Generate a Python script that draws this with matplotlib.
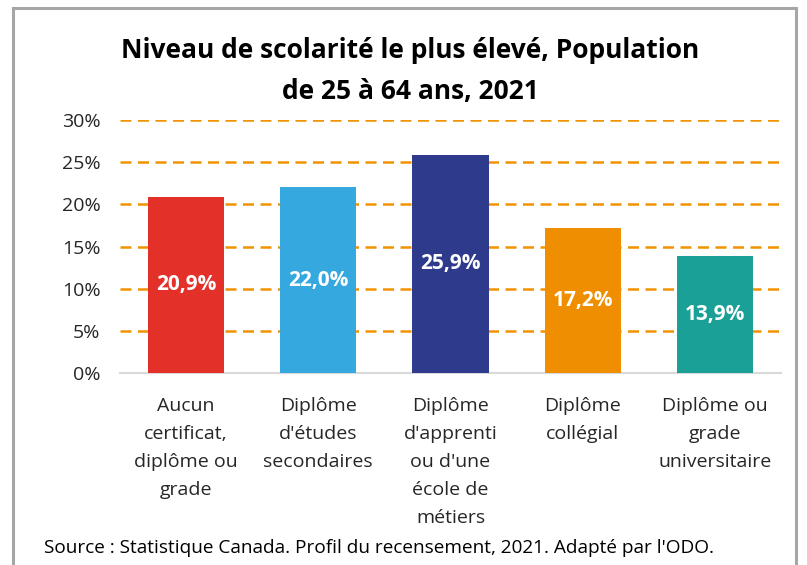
import matplotlib
import matplotlib.pyplot as plt
import matplotlib.patches as mpatches
from matplotlib.ticker import FuncFormatter

plt.rcParams["font.family"] = ["Liberation Sans Narrow", "Open Sans", "DejaVu Sans"]

# ── Data ────────────────────────────────────────────────────────────────────
categories = [
    "Aucun\ncertificat,\ndiplôme ou\ngrade",
    "Diplôme\nd'études\nsecondaires",
    "Diplôme\nd'apprenti\nou d'une\nécole de\nmétiers",
    "Diplôme\ncollégial",
    "Diplôme ou\ngrade\nuniversitaire",
]
values = [20.9, 22.0, 25.9, 17.2, 13.9]
colors = ["#E3312A", "#36A8E0", "#2E3A8C", "#EE8E00", "#1BA098"]
yticks = [0, 5, 10, 15, 20, 25, 30]

# ── Figure ──────────────────────────────────────────────────────────────────
W, H = 807, 565
fig = plt.figure(figsize=(W / 100, H / 100), dpi=100)

# gray frame around the chart
fig.patches.append(mpatches.Rectangle((13 / W, -0.01), (796 - 13) / W, (H - 8) / H + 0.01,
                                      transform=fig.transFigure, fill=False,
                                      edgecolor="#A6A6A6", linewidth=2.2))

ax = fig.add_axes([120 / W, (H - 373) / H, 661 / W, 253 / H])
x = range(len(values))
bars = ax.bar(x, values, width=0.575, color=colors, zorder=3)

for bar, val in zip(bars, values):
    ax.text(bar.get_x() + bar.get_width() / 2, val / 2, f"{val:.1f}%".replace(".", ","),
            ha="center", va="center", color="white", fontsize=15, fontweight="bold", zorder=4)

ax.set_xlim(-0.5, len(values) - 0.5)
ax.set_ylim(0, 30)
ax.set_yticks(yticks)
ax.yaxis.set_major_formatter(FuncFormatter(lambda v, _: f"{v:.0f}%"))
ax.grid(axis="y", color="#F39200", linestyle=(0, (4.4, 2.6)), linewidth=1.8, zorder=1)
ax.set_axisbelow(True)

ax.set_xticks(list(x))
ax.set_xticklabels(categories, fontsize=14, linespacing=1.72, va="top")
ax.tick_params(axis="both", length=0, labelsize=14, colors="#262626")
ax.tick_params(axis="x", pad=17)
ax.tick_params(axis="y", pad=14)

for s in ("top", "right", "left"):
    ax.spines[s].set_visible(False)
ax.spines["bottom"].set_color("#D9D9D9")
ax.spines["bottom"].set_linewidth(1.5)

fig.text(410 / W, 1 - 71 / H, "Niveau de scolarité le plus élevé, Population\nde 25 à 64 ans, 2021",
         ha="center", va="center", fontsize=19, fontweight="bold", linespacing=1.65)
fig.text(44 / W, 1 - 548 / H, "Source : Statistique Canada. Profil du recensement, 2021. Adapté par l'ODO.",
         ha="left", va="center", fontsize=13.7)

fig.savefig("out.png", dpi=100)
